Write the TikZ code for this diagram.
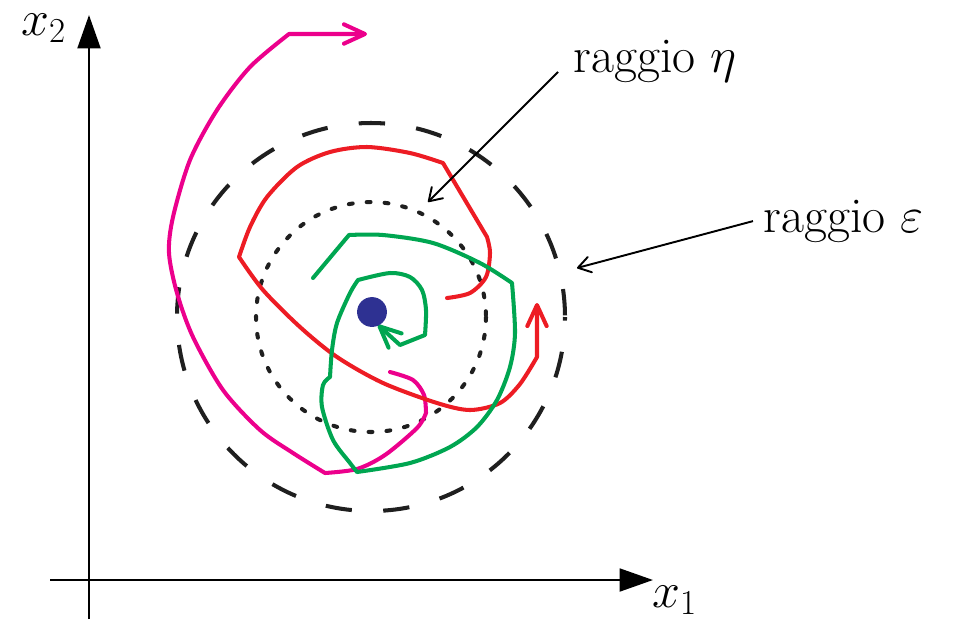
\RequirePackage{fix-cm}
\documentclass[tikz,border=0pt]{standalone}
\usetikzlibrary{positioning, arrows.meta, calc}

\definecolor{trajmagenta}{RGB}{236,0,140}
\definecolor{trajred}{RGB}{237,28,36}
\definecolor{trajgreen}{RGB}{0,166,81}
\definecolor{dotblue}{RGB}{46,49,146}

\begin{document}
\begin{tikzpicture}[x=0.02cm, y=-0.02cm, >={Straight Barb[length=12pt,width=11pt,round]}]
    % Styles
    \tikzstyle{axis} = [line width=1.4pt, -{Triangle[length=19pt,width=13pt]}]
    \tikzstyle{traj} = [line width=2.3pt, line join=round, line cap=round, ->]
    \tikzstyle{bigcircle} = [line width=2.3pt, black!88, dash pattern=on 15pt off 17.9pt, dash phase=13pt]
    \tikzstyle{smallcircle} = [line width=2.3pt, black!88, line cap=round, dash pattern=on 2.2pt off 8pt]
    \tikzstyle{annot} = [line width=1.1pt, -{Straight Barb[length=7pt,width=9pt,round]}]
    \tikzstyle{lbl} = [font=\fontsize{28.5}{34}\selectfont, inner sep=0pt]
    \tikzstyle{eqpoint} = [circle, fill=dotblue, minimum size=17pt, inner sep=0pt]

    \useasboundingbox (0,0) rectangle (953,620);

    % Coordinates
    \coordinate (x1start) at (50,580);
    \coordinate (x1end) at (653,580);
    \coordinate (x2start) at (89,619);
    \coordinate (x2end) at (89,15);
    \coordinate (center) at (371,317);
    \coordinate (etatip) at (428,202);
    \coordinate (epstip) at (577,268);

    % Nodes
    \node [lbl, anchor=base west] (x1label) at (652,607) {$x_1$};
    \node [lbl, anchor=base west] (x2label) at (21,35) {$x_2$};
    \node [lbl, anchor=base west] (etalabel) at (573,72) {raggio $\eta$};
    \node [lbl, anchor=base west] (epslabel) at (763,232) {raggio $\varepsilon$};

    % Axes
    \draw [axis] (x1start) -- (x1end);
    \draw [axis] (x2start) -- (x2end);

    % Circles
    \draw [bigcircle] (center) circle [radius=194];
    \draw [smallcircle] (center) circle [radius=115];

    % Trajectories
    \draw [traj, trajmagenta] plot [smooth] coordinates {(390,372) (413,380) (424,395) (426,413)}
        -- plot [smooth] coordinates {(426,413) (417,428) (385,455) (357,469) (325,473)}
        -- plot [smooth] coordinates {(325,473) (293,453) (260,430) (223,390) (193,337) (177,293)
            (169,253) (173,217) (190,160) (217,110) (250,67) (289,34)}
        -- (367,34);
    \draw [traj, trajred] plot [smooth] coordinates {(447,298) (470,293) (486,277) (490,253) (487,237)}
        -- (443,163)
        -- plot [smooth] coordinates {(443,163) (410,153) (367,147) (330,152) (297,167) (267,197)
            (250,227) (239,257)}
        -- plot [smooth] coordinates {(239,257) (263,290) (300,327) (337,357) (383,383) (437,403)
            (470,410) (500,403) (520,384) (537,357)}
        -- (537,303);
    \draw [traj, trajgreen] (313,278) -- (349,235)
        -- plot [smooth] coordinates {(349,235) (383,235) (433,243) (480,263) (512,283)}
        -- plot [smooth] coordinates {(512,283) (515,333) (510,367) (497,400) (477,427) (450,447)
            (410,463) (357,472)}
        -- plot [smooth] coordinates {(357,472) (350,463) (333,440) (322,407) (323,385) (330,377)}
        -- plot [smooth] coordinates {(330,377) (332,350) (337,323) (350,293) (358,280)}
        -- plot [smooth] coordinates {(358,280) (390,273) (410,277) (422,290) (426,310) (425,335)}
        -- (400,345) -- (378,325);

    % Equilibrium point
    \node [eqpoint] (eq) at (372,312) {};

    % Arrows
    \draw [annot] ([xshift=-8.5pt]etalabel.base west) -- (etatip);
    \draw [annot] ([shift={(-5.7pt,6.2pt)}]epslabel.base west) -- (epstip);
\end{tikzpicture}
\end{document}
